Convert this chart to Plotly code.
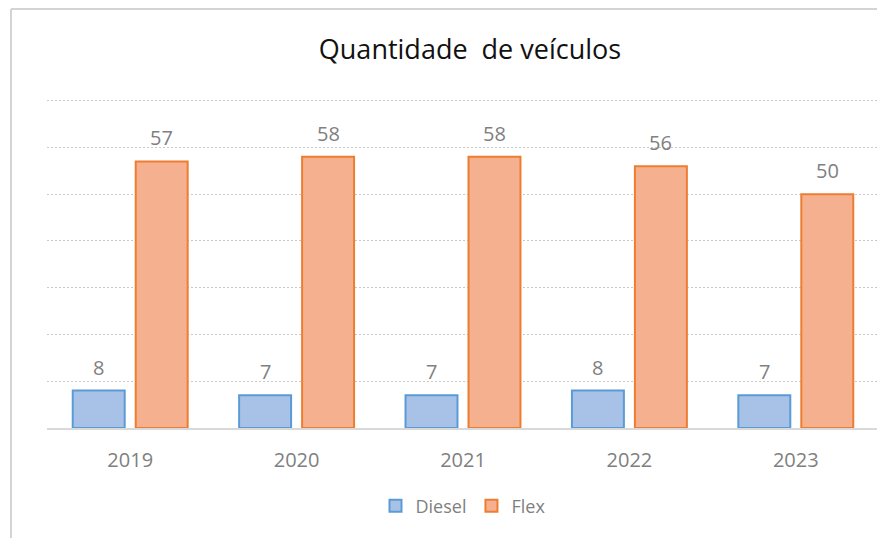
import plotly.graph_objects as go

years = ["2019", "2020", "2021", "2022", "2023"]
diesel = [8, 7, 7, 8, 7]
flex = [57, 58, 58, 56, 50]

# page body has an 8px margin; lay out in figure pixels (= reference px - 8)
W, H = 877, 530
L, R, T, B = 39, 6, 88, 110
pw = W - L - R
ph = H - T - B
YMAX = 71

def px_x(p):
    return (p - L) / pw

def px_y(p):
    return (H - B - p) / ph

BARGAP = 0.243
GROUPGAP = 0.175
cat_w = pw / len(years)
slot = cat_w * (1 - BARGAP) / 2

fig = go.Figure()
fig.add_trace(go.Bar(
    name="Diesel", x=years, y=diesel,
    marker=dict(color="#a8c2e7", line=dict(color="#5b9bd5", width=2)),
))
fig.add_trace(go.Bar(
    name="Flex", x=years, y=flex,
    marker=dict(color="#f5b08f", line=dict(color="#ed7d31", width=2)),
))

annotations = []
for vals, sign in ((diesel, -1), (flex, 1)):
    for i, v in enumerate(vals):
        annotations.append(dict(
            x=i, y=v, xref="x", yref="y", text=str(v), showarrow=False,
            xshift=sign * slot / 2, yanchor="bottom", yshift=8,
            font=dict(color="#7f7f7f", size=20, family="Open Sans"),
        ))

fig.update_layout(
    width=W, height=H,
    margin=dict(l=L, r=R, t=T, b=B, autoexpand=False),
    paper_bgcolor="white", plot_bgcolor="white",
    barmode="group", bargap=BARGAP, bargroupgap=GROUPGAP,
    title=dict(text="Quantidade\u00a0 de veículos", x=px_x(462), xanchor="center",
               xref="paper", y=1 - 42 / H, yanchor="middle",
               font=dict(family="Open Sans", size=27, color="#111111")),
    xaxis=dict(type="category", range=[-0.5, len(years) - 0.5], showgrid=False,
               showline=True, linecolor="#d9d9d9", linewidth=2,
               ticks="", tickfont=dict(color="#7f7f7f", size=20, family="Open Sans"),
               ticklabelstandoff=13),
    yaxis=dict(range=[0, YMAX], dtick=10, showticklabels=False, showgrid=True,
               gridcolor="#c8c8c8", griddash="2px,2px", gridwidth=1, zeroline=False),
    legend=dict(orientation="h", x=0.5, xanchor="center", y=px_y(498), yanchor="middle",
                font=dict(color="#7f7f7f", size=18, family="Open Sans"),
                itemwidth=30, traceorder="normal"),
    showlegend=True,
    annotations=annotations,
    shapes=[
        dict(type="line", xref="paper", yref="paper", x0=px_x(3), x1=px_x(W + 5),
             y0=px_y(1), y1=px_y(1), line=dict(color="#d4d4d4", width=2)),
        dict(type="line", xref="paper", yref="paper", x0=px_x(3), x1=px_x(3),
             y0=px_y(1), y1=px_y(H + 5), line=dict(color="#d4d4d4", width=2)),
    ],
)

fig.write_html("out.html")
